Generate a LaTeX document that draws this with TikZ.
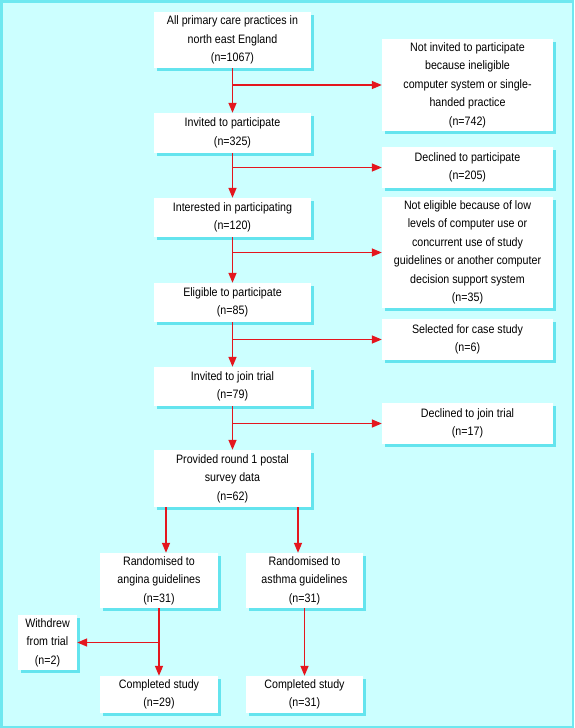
\documentclass[tikz,border=0pt]{standalone}
\usepackage{fontspec}
\setmainfont[FakeStretch=0.875]{Liberation Sans}
\usetikzlibrary{arrows.meta}
\definecolor{bg}{RGB}{204,255,255}
\definecolor{framec}{RGB}{110,232,240}
\definecolor{shade}{RGB}{100,228,238}
\definecolor{arr}{RGB}{228,22,30}
\begin{document}
\begin{tikzpicture}[x=1pt,y=-1pt,
  box/.style={fill=white, inner sep=0pt, align=center,
    font=\fontsize{12.2}{18.5}\selectfont,
    preaction={fill=shade, transform canvas={shift={(2.5pt,-2.5pt)}}}},
  flow/.style={draw=arr, line width=1.5pt, -{Triangle[length=10pt,width=8pt]}}]
\useasboundingbox (0,0) rectangle (574,728);
\draw[fill=bg, draw=framec, line width=2.5pt] (1.25,1.25) rectangle (572.75,726.75);

% left column
\node[box, minimum width=157pt, minimum height=56pt] (A) at (232.5,40) {All primary care practices in\\north east England\\(n=1067)};
\node[box, minimum width=157pt, minimum height=40pt] (B) at (232.5,133) {Invited to participate\\(n=325)};
\node[box, minimum width=157pt, minimum height=39pt] (C) at (232.5,217.5) {Interested in participating\\(n=120)};
\node[box, minimum width=157pt, minimum height=39pt] (D) at (232.5,302.5) {Eligible to participate\\(n=85)};
\node[box, minimum width=157pt, minimum height=39pt] (E) at (232.5,386.5) {Invited to join trial\\(n=79)};
\node[box, minimum width=157pt, minimum height=57pt] (F) at (232.5,478.5) {Provided round 1 postal\\survey data\\(n=62)};

% right column
\node[box, minimum width=171pt, minimum height=92pt] (R1) at (467.5,85) {Not invited to participate\\because ineligible\\computer system or single-\\handed practice\\(n=742)};
\node[box, minimum width=171pt, minimum height=41pt] (R2) at (467.5,167.5) {Declined to participate\\(n=205)};
\node[box, minimum width=171pt, minimum height=111pt] (R3) at (467.5,252.5) {Not eligible because of low\\levels of computer use or\\concurrent use of study\\guidelines or another computer\\decision support system\\(n=35)};
\node[box, minimum width=171pt, minimum height=41pt] (R4) at (467.5,339.5) {Selected for case study\\(n=6)};
\node[box, minimum width=171pt, minimum height=41pt] (R5) at (467.5,423.5) {Declined to join trial\\(n=17)};

% bottom
\node[box, minimum width=118pt, minimum height=55pt] (G) at (159,580.5) {Randomised to\\angina guidelines\\(n=31)};
\node[box, minimum width=117pt, minimum height=55pt] (H) at (304.5,580.5) {Randomised to\\asthma guidelines\\(n=31)};
\node[box, minimum width=59pt, minimum height=55pt] (W) at (47.5,642.5) {Withdrew\\from trial\\(n=2)};
\node[box, minimum width=118pt, minimum height=37pt] (I) at (159,694.5) {Completed study\\(n=29)};
\node[box, minimum width=117pt, minimum height=37pt] (J) at (304.5,694.5) {Completed study\\(n=31)};

% connectors
\draw[flow] (A) -- (B);
\draw[flow] (B) -- (C);
\draw[flow] (C) -- (D);
\draw[flow] (D) -- (E);
\draw[flow] (E) -- (F);
\draw[flow] (A.south |- R1.west) -- (R1.west);
\draw[flow] (B.south |- R2.west) -- (R2.west);
\draw[flow] (C.south |- R3.west) -- (R3.west);
\draw[flow] (D.south |- R4.west) -- (R4.west);
\draw[flow] (E.south |- R5.west) -- (R5.west);
\draw[flow] ([xshift=-66.5pt]F.south) -- ([xshift=-66.5pt]F.south |- G.north);
\draw[flow] ([xshift=65.5pt]F.south) -- ([xshift=65.5pt]F.south |- H.north);
\draw[flow] (G) -- (I);
\draw[flow] (G.south |- W.east) -- (W.east);
\draw[flow] (H) -- (J);
\end{tikzpicture}
\end{document}
